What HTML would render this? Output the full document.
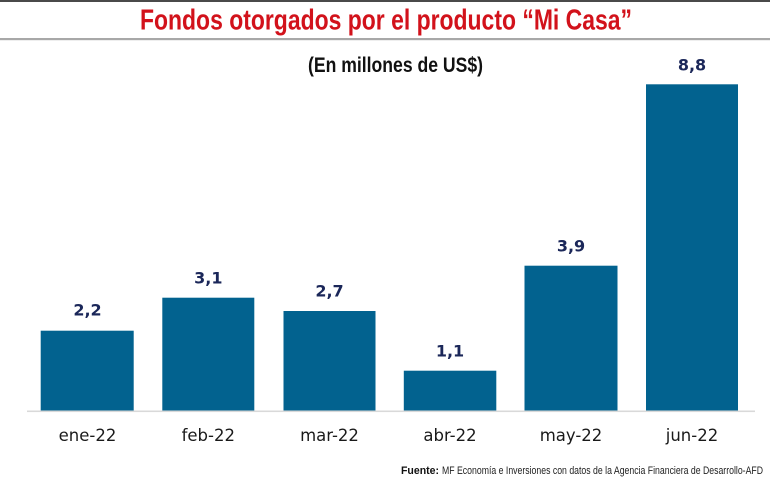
<!DOCTYPE html>
<html>
<head>
<meta charset="utf-8">
<style>
  html, body { margin: 0; padding: 0; background: #ffffff; }
  body { width: 770px; height: 484px; overflow: hidden; }
  svg { display: block; }
</style>
</head>
<body>
<svg width="770" height="484" viewBox="0 0 770 484" xmlns="http://www.w3.org/2000/svg">
  <rect x="0" y="0" width="770" height="484" fill="#ffffff"/>
  <!-- top dark line -->
  <rect x="0" y="0" width="770" height="2" fill="#4a4a4a"/>
  <!-- title -->
  <text x="140" y="29.5" font-family="'Liberation Sans Narrow','Liberation Sans',sans-serif" font-weight="bold" font-size="29" fill="#d2121b" textLength="492" lengthAdjust="spacingAndGlyphs">Fondos otorgados por el producto “Mi Casa”</text>
  <!-- gray separator -->
  <rect x="0" y="38" width="770" height="2.2" fill="#a8a8a8"/>
  <!-- subtitle -->
  <text x="308" y="72" font-family="'Liberation Sans Narrow','Liberation Sans',sans-serif" font-weight="bold" font-size="21" fill="#111111" textLength="175" lengthAdjust="spacingAndGlyphs">(En millones de US$)</text>

  <!-- axis line -->
  <rect x="27" y="410.5" width="728" height="1.6" fill="#d9d9d9"/>

  <!-- bars -->
  <g fill="#02628f">
    <rect x="40.7" y="330.7" width="93" height="79.8"/>
    <rect x="162.3" y="297.7" width="92" height="112.8"/>
    <rect x="283.5" y="311" width="92" height="99.5"/>
    <rect x="403.8" y="370.7" width="92.5" height="39.8"/>
    <rect x="524.5" y="265.7" width="93" height="144.8"/>
    <rect x="646" y="84.3" width="92" height="326.2"/>
  </g>

  <!-- value labels -->
  <g font-family="'DejaVu Sans',Verdana,sans-serif" font-weight="bold" font-size="16" fill="#1b2759" text-anchor="middle">
    <text x="87.5" y="315.5">2,2</text>
    <text x="208.3" y="283.3">3,1</text>
    <text x="329.5" y="296.5">2,7</text>
    <text x="450" y="356.5">1,1</text>
    <text x="571" y="251.3">3,9</text>
    <text x="692" y="70.7">8,8</text>
  </g>

  <!-- category labels -->
  <g font-family="'DejaVu Sans',sans-serif" font-size="16.5" fill="#1a1a1a" text-anchor="middle">
    <text x="87.5" y="441">ene-22</text>
    <text x="208.3" y="441">feb-22</text>
    <text x="329.5" y="441">mar-22</text>
    <text x="450" y="441">abr-22</text>
    <text x="571" y="441">may-22</text>
    <text x="692" y="441">jun-22</text>
  </g>

  <!-- source -->
  <text x="401" y="474" font-family="'Liberation Sans Narrow','Liberation Sans',sans-serif" font-weight="bold" font-size="11" fill="#111111" textLength="38" lengthAdjust="spacingAndGlyphs">Fuente:</text>
  <text x="442" y="474" font-family="'Liberation Sans Narrow','Liberation Sans',sans-serif" font-size="11" fill="#222222" textLength="321" lengthAdjust="spacingAndGlyphs">MF Economía e Inversiones con datos de la Agencia Financiera de Desarrollo-AFD</text>
</svg>
</body>
</html>
